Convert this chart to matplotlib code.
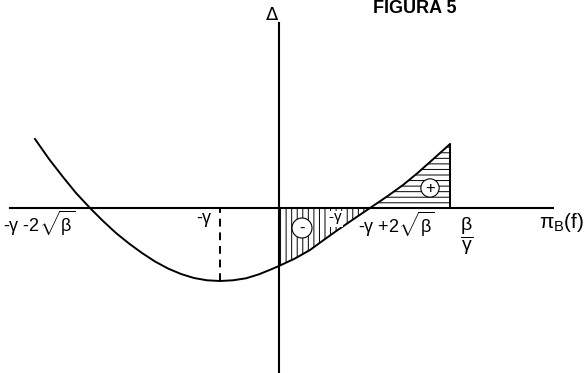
import numpy as np
import matplotlib
matplotlib.use("Agg")
import matplotlib.pyplot as plt

plt.rcParams['font.family'] = ['Liberation Sans', 'DejaVu Sans']
plt.rcParams['mathtext.fontset'] = 'custom'
plt.rcParams['mathtext.rm'] = 'Liberation Sans'
plt.rcParams['mathtext.it'] = 'Liberation Sans'
plt.rcParams['mathtext.bf'] = 'Liberation Sans:bold'
plt.rcParams['hatch.linewidth'] = 0.7

# Delta as a function of pi_B(f), sampled along the drawn curve
curve_x = np.array([-244, -230, -216, -203, -189, -176, -163, -150, -137, -124,
                    -111, -98, -85, -72, -59, -46, -33, -20, -7, 1,
                    16, 31, 44, 58, 74, 91, 108, 124, 138, 151, 161, 171])
curve_y = np.array([69, 49, 31, 15, 0, -13, -25, -35.5, -45, -53.5,
                    -60.5, -66, -70, -72.3, -73, -72.3, -70.3, -66.3, -61, -57.5,
                    -50.5, -42, -32.5, -22.5, -11.5, 0, 11.5, 23, 34.5, 46, 55, 64])

# marked points on the pi_B(f) axis
x_left_root = -189
x_gamma = -59
x_right_root = 91
x_beta_gamma = 171

fig = plt.figure(figsize=(5.84, 3.73), dpi=100)
ax = fig.add_axes([0, 0, 1, 1])
ax.set_xlim(-279, 305)
ax.set_ylim(-165, 208)
ax.axis('off')

# axes
ax.plot([-269, 274], [0, 0], color='black', lw=1.5)
ax.plot([0, 0], [-164, 185], color='black', lw=1.5)

# curve
ax.plot(curve_x, curve_y, color='black', lw=1.4)

# negative area between 0 and the right root
neg = (curve_x >= 0) & (curve_x <= x_right_root)
ax.fill_between(curve_x, curve_y, 0, where=neg, facecolor='none',
                edgecolor='black', hatch='|||', lw=0)
# positive area between the right root and beta/gamma
pos = (curve_x >= x_right_root) & (curve_x <= x_beta_gamma)
ax.fill_between(curve_x, curve_y, 0, where=pos, facecolor='none',
                edgecolor='black', hatch='---', lw=0)
ax.vlines(x_beta_gamma, 0, curve_y[curve_x == x_beta_gamma][0], color='black', lw=1.4)

# dashed line down to the minimum at -gamma
ax.vlines(x_gamma, curve_y[curve_x == x_gamma][0], 0, color='black', lw=1.4,
          linestyles=(0, (4, 3)))

# labels
ax.text(-7, 193, 'Δ', fontsize=13, ha='center', va='center', family='DejaVu Sans')
ax.text(94, 195, 'FIGURA 5', fontsize=13, fontweight='bold', ha='left', va='baseline')
ax.text(x_left_root - 51, -15, r'-$\gamma$ -2$\sqrt{\beta}$', fontsize=13, ha='center', va='center')
ax.text(x_gamma - 16, -12, r'-$\gamma$', fontsize=13, ha='center', va='center')
ax.text(x_right_root + 26, -16, r'-$\gamma$ +2$\sqrt{\beta}$', fontsize=13, ha='center', va='center')
ax.text(56, -11, r'-$\gamma$', fontsize=11, ha='center', va='center',
        bbox=dict(boxstyle='square,pad=0.05', fc='white', ec='none'))
ax.text(x_beta_gamma + 17, -28, r'$\dfrac{\beta}{\gamma}$', fontsize=14, ha='center', va='center')
ax.text(283, -14, r'$\pi_{\mathrm{B}}$(f)', fontsize=15, ha='center', va='center')

# signs of the two areas
ax.text(23, -20, '-', fontsize=12, ha='center', va='center',
        bbox=dict(boxstyle='circle,pad=0.15', fc='white', ec='black', lw=0.8))
ax.text(151, 20, '+', fontsize=12, ha='center', va='center',
        bbox=dict(boxstyle='circle,pad=0.1', fc='white', ec='black', lw=0.8))

fig.savefig('out.png', dpi=100)
